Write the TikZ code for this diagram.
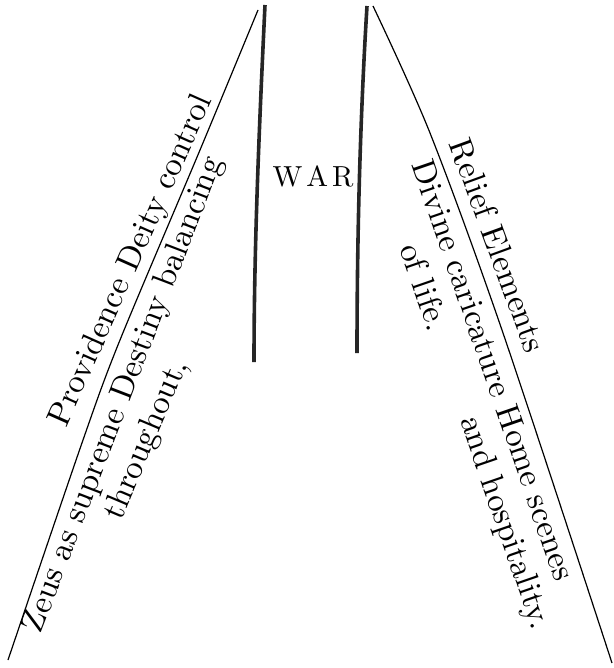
\documentclass[tikz,border=0pt]{standalone}
\font\txtfont="[lmroman10-regular.otf]:mapping=tex-text" at 33pt
\font\warfont="[lmroman10-regular.otf]:mapping=tex-text" at 29pt
\begin{document}
\begin{tikzpicture}[x=1pt,y=-1pt,
  rule/.style={line width=1.2pt,black},
  bar/.style={line width=3.6pt,black!85},
  lbl/.style={inner sep=0pt,font=\txtfont},
  warlbl/.style={inner sep=0pt,font=\warfont}]
\useasboundingbox (0,0) rectangle (613,668);
% ruled lines
\coordinate (lt) at (258,10);
\coordinate (lm1) at (200,150);
\coordinate (lm2) at (120,340);
\coordinate (lm3) at (83,440);
\coordinate (lb) at (8,660);
\coordinate (rt) at (373,6);
\coordinate (rm1) at (430,133);
\coordinate (rm2) at (503,333);
\coordinate (rb) at (612,663);
\draw[rule] plot[smooth,tension=0.5] coordinates {(lt) (lm1) (lm2) (lm3) (lb)};
\draw[rule] plot[smooth,tension=0.5] coordinates {(rt) (rm1) (rm2) (rb)};
% war bars
\coordinate (bl1) at (265,5);
\coordinate (bl2) at (254,362);
\coordinate (br1) at (367,6);
\coordinate (br2) at (357,353);
\draw[bar] (bl1) .. controls (259,130) and (254,250) .. (bl2);
\draw[bar] (br1) .. controls (360,120) and (357,240) .. (br2);
% labels
\node[warlbl] (war) at (313,176) {W\kern4pt A\kern4pt R};
\node[lbl,rotate=66] (l1) at (132,261) {Providence Deity control};
\node[lbl,rotate=69] (l2) at (124,395) {Zeus as supreme Destiny balancing};
\node[lbl,rotate=67] (l3) at (147,440) {throughout,};
\node[lbl,rotate=-70] (r1) at (498,245) {Relief Elements};
\node[lbl,rotate=-71] (r2) at (494,370) {Divine caricature Home scenes};
\node[lbl,rotate=-71] (r3) at (425,287) {of life.};
\node[lbl,rotate=-71] (r4) at (504,523) {and hospitality.};
\end{tikzpicture}
\end{document}
